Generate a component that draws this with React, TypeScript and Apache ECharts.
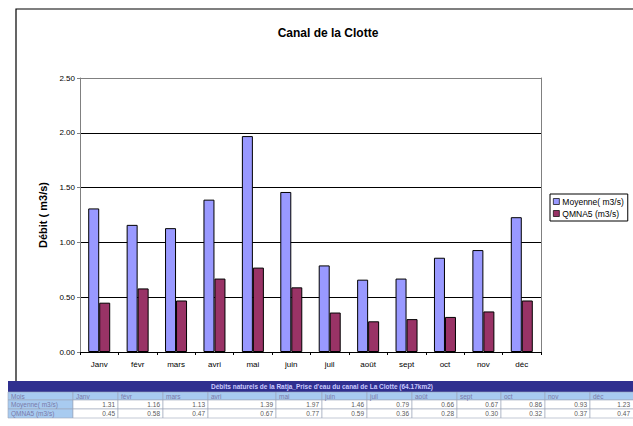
import React, { useEffect, useRef } from "react";
import * as echarts from "echarts";

const chartTitle = "Canal de la Clotte";
const yAxisName = "Débit ( m3/s)";
const months = ["Janv", "févr", "mars", "avri", "mai", "juin", "juil", "août", "sept", "oct", "nov", "déc"];
const moyenne = [1.31, 1.16, 1.13, 1.39, 1.97, 1.46, 0.79, 0.66, 0.67, 0.86, 0.93, 1.23];
const qmna5 = [0.45, 0.58, 0.47, 0.67, 0.77, 0.59, 0.36, 0.28, 0.3, 0.32, 0.37, 0.47];
const seriesNames = ["Moyenne( m3/s)", "QMNA5 (m3/s)"];
const tableTitle = "Débits naturels de la Ratja_Prise d'eau du canal de La Clotte (64.17km2)";
const tableCorner = "Mois";

const FONT = "'Liberation Sans', Arial, sans-serif";

function buildTable() {
  const colEdges = [8, 73, 118, 163, 208, 276, 322, 367, 412, 457, 501, 545, 590, 633];
  const rowEdges = [381, 392, 400, 409, 418];
  const els: any[] = [];
  const navy = "#2f2f8f";
  const light = "#a8cbf0";
  const border = "#9aa6b8";
  els.push({
    type: "rect",
    shape: { x: colEdges[0], y: rowEdges[0], width: 640, height: rowEdges[1] - rowEdges[0] },
    style: { fill: navy },
    z: 20,
  });
  els.push({
    type: "text",
    x: 322,
    y: (rowEdges[0] + rowEdges[1]) / 2,
    style: {
      text: tableTitle,
      fill: "#c9c9ff",
      font: `bold 6.5px ${FONT}`,
      align: "center",
      verticalAlign: "middle",
    },
    z: 21,
  });
  const rows = [
    [tableCorner, ...months],
    [seriesNames[0], ...moyenne.map((v) => v.toFixed(2))],
    [seriesNames[1], ...qmna5.map((v) => v.toFixed(2))],
  ];
  rows.forEach((row, r) => {
    const y0 = rowEdges[r + 1];
    const y1 = rowEdges[r + 2];
    row.forEach((cell, c) => {
      const x0 = colEdges[c];
      const x1 = colEdges[c + 1];
      const isHead = r === 0 || c === 0;
      els.push({
        type: "rect",
        shape: { x: x0, y: y0, width: c === row.length - 1 ? x1 - x0 + 10 : x1 - x0, height: y1 - y0 },
        style: { fill: isHead ? light : "#ffffff", stroke: border, lineWidth: 0.6 },
        z: 20,
      });
      els.push({
        type: "text",
        x: isHead ? x0 + 3 : x1 - 3,
        y: (y0 + y1) / 2,
        style: {
          text: cell,
          fill: isHead ? "#7a7aa8" : "#5a5a5a",
          font: `6.5px ${FONT}`,
          align: isHead ? "left" : "right",
          verticalAlign: "middle",
        },
        z: 21,
      });
    });
  });
  return els;
}

export default function App() {
  const ref = useRef<HTMLDivElement>(null);
  useEffect(() => {
    document.body.style.margin = "0";
    if (!ref.current) return;
    const chart = echarts.init(ref.current, null, { renderer: "svg" });
    const option: any = {
      animation: false,
      backgroundColor: "#ffffff",
      textStyle: { fontFamily: FONT },
      title: {
        text: chartTitle,
        left: 323,
        top: 22,
        textAlign: "center",
        textStyle: { fontSize: 12, fontWeight: "bold", color: "#000", fontFamily: FONT },
      },
      legend: {
        orient: "vertical",
        left: 550,
        top: 194,
        padding: [3, 4, 3, 3],
        itemWidth: 6,
        itemHeight: 6,
        itemGap: 3,
        borderColor: "#000",
        borderWidth: 1,
        backgroundColor: "#fff",
        icon: "rect",
        itemStyle: { borderWidth: 0.7, borderColor: "#000" },
        textStyle: { fontSize: 8.5, color: "#000", fontFamily: FONT, padding: [0, 0, 0, -2] },
        data: seriesNames,
      },
      grid: { left: 80, top: 78, width: 461, height: 274, containLabel: false },
      xAxis: {
        type: "category",
        data: months,
        axisLine: { lineStyle: { color: "#000", width: 1 } },
        axisTick: { show: true, length: 3, lineStyle: { color: "#000" } },
        axisLabel: { fontSize: 8, color: "#000", margin: 8, fontFamily: FONT },
        splitLine: { show: false },
      },
      yAxis: [
        {
          type: "value",
          min: 0,
          max: 2.5,
          interval: 0.5,
          name: yAxisName,
          nameLocation: "middle",
          nameRotate: 90,
          nameGap: 29,
          nameTextStyle: { fontSize: 11, fontWeight: "bold", color: "#000", fontFamily: FONT },
          axisLine: { show: true, lineStyle: { color: "#808080" } },
          axisTick: { show: true, length: 3, lineStyle: { color: "#808080" } },
          axisLabel: {
            fontSize: 8,
            color: "#000",
            margin: 5,
            fontFamily: FONT,
            formatter: (v: number) => v.toFixed(2),
          },
          splitLine: {
            show: true,
            lineStyle: { color: ["#000", "#000", "#000", "#000", "#000", "#808080"], width: 1 },
          },
        },
        {
          type: "value",
          min: 0,
          max: 2.5,
          interval: 0.5,
          position: "right",
          axisLine: { show: true, lineStyle: { color: "#808080" } },
          axisTick: { show: false },
          axisLabel: { show: false },
          splitLine: { show: false },
        },
      ],
      series: [
        {
          name: seriesNames[0],
          type: "bar",
          data: moyenne,
          barWidth: 11,
          barGap: "0%",
          itemStyle: { color: "#9999ff", borderColor: "#000", borderWidth: 1 },
        },
        {
          name: seriesNames[1],
          type: "bar",
          data: qmna5,
          barWidth: 11,
          barGap: "0%",
          itemStyle: { color: "#993366", borderColor: "#000", borderWidth: 1 },
        },
      ],
      graphic: [
        {
          type: "rect",
          shape: { x: 16, y: 9, width: 640, height: 376 },
          style: { fill: "none", stroke: "#000", lineWidth: 1.2 },
          z: -1,
          silent: true,
        },
        ...buildTable(),
      ],
    };
    chart.setOption(option);
    return () => chart.dispose();
  }, []);
  return <div ref={ref} style={{ width: 633, height: 426 }} />;
}
